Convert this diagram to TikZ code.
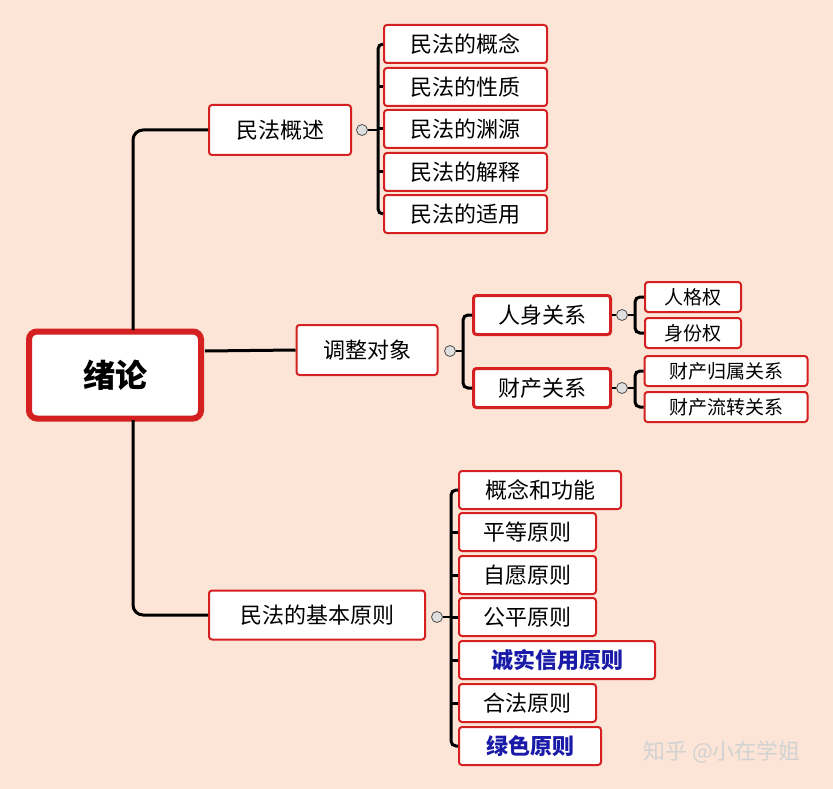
\documentclass[tikz,border=0pt]{standalone}
\usepackage{fontspec}
\setmainfont{Noto Sans CJK SC}
\definecolor{bg}{HTML}{FCE5D7}
\definecolor{bred}{HTML}{D42020}
\definecolor{bblue}{HTML}{1A1AA8}
\begin{document}
\begin{tikzpicture}[x=1pt,y=-1pt,
 box/.style={draw=bred,fill=white,rounded corners=3pt,line width=2pt,minimum height=38pt,inner sep=0pt,font=\fontsize{22}{24}\selectfont},
 sbox/.style={box,minimum height=30pt,font=\fontsize{19}{21}\selectfont},
 con/.style={line width=3pt,black},
 col/.style={circle,draw=black!70,fill=gray!25,line width=0.8pt,minimum size=11pt,inner sep=0pt}]
\fill[bg] (0,0) rectangle (833,789);
\useasboundingbox (0,0) rectangle (833,789);
% root
\node[box,line width=6pt,rounded corners=8pt,minimum width=172pt,minimum height=87pt,font=\fontsize{32}{34}\selectfont\bfseries] (root) at (115,375) {绪论};
\node[box,minimum width=142pt,minimum height=50pt] (a) at (280,130) {民法概述};
\node[box,minimum width=141pt,minimum height=50pt] (b) at (367,350) {调整对象};
\node[box,minimum width=216pt,minimum height=49pt] (c) at (317,615) {民法的基本原则};
% connectors from root
\draw[con,rounded corners=10pt] (133,330) |- (a.west);
\draw[con,rounded corners=10pt] (133,420) |- (c.west);
\draw[con] (205,351) -- (b.west);
% group a
\foreach \n/\t/\y in {a1/民法的概念/44,a2/民法的性质/87,a3/民法的渊源/129,a4/民法的解释/172,a5/民法的适用/214}
  \node[box,minimum width=163pt,anchor=west] (\n) at (383,\y) {\t};
\draw[con,rounded corners=5pt] (a1.west) -- (378,44) -- (378,214) -- (a5.west);
\foreach \n in {a2,a3,a4} \draw[con] (378,0|-\n.west) -- (\n.west);
\node[col] (ca) at (362,130) {};
\draw[con,line width=1.5pt] (ca.east) -- (378,130);
% group b
\node[box,line width=3pt,minimum width=137pt,minimum height=39pt] (b1) at (542,315) {人身关系};
\node[box,line width=3pt,minimum width=137pt,minimum height=39pt] (b2) at (542,388) {财产关系};
\node[col] (cb) at (450,351) {};
\draw[con,line width=1.5pt] (cb.east) -- (463,351);
\draw[con,rounded corners=5pt] (b1.west) -- (463,315) -- (463,388) -- (b2.west);
\node[sbox,minimum width=96pt] (b11) at (693,297) {人格权};
\node[sbox,minimum width=96pt] (b12) at (693,333) {身份权};
\node[sbox,minimum width=163pt] (b21) at (726,371) {财产归属关系};
\node[sbox,minimum width=163pt] (b22) at (726,407) {财产流转关系};
\node[col] (cb1) at (622,315) {};
\node[col] (cb2) at (622,388) {};
\draw[con,line width=1.5pt] (b1.east) -- (cb1.west);
\draw[con,line width=1.5pt] (b2.east) -- (cb2.west);
\draw[con,line width=1.5pt] (cb1.east) -- (635,315);
\draw[con,line width=1.5pt] (cb2.east) -- (635,388);
\draw[con,rounded corners=5pt] (b11.west) -- (635,297) -- (635,333) -- (b12.west);
\draw[con,rounded corners=5pt] (b21.west) -- (635,371) -- (635,407) -- (b22.west);
% group c
\foreach \n/\t/\y/\w/\s in {c1/概念和功能/490/162/,c2/平等原则/532/137/,c3/自愿原则/575/137/,c4/公平原则/617/137/,c5/诚实信用原则/660/196/\bfseries\color{bblue},c6/合法原则/703/137/,c7/绿色原则/746/142/\bfseries\color{bblue}}
  \node[box,minimum width=\w pt,anchor=west,font=\fontsize{22}{24}\selectfont\s] (\n) at (458,\y) {\t};
\draw[con,rounded corners=5pt] (c1.west) -- (451,490) -- (451,746) -- (c7.west);
\foreach \n in {c2,c3,c4,c5,c6} \draw[con] (451,0|-\n.west) -- (\n.west);
\node[col] (cc) at (437,617) {};
\draw[con,line width=1.5pt] (cc.east) -- (451,617);
% watermark
\node[text=white!65!gray,font=\fontsize{22}{24}\selectfont] (wm) at (722,752) {知乎 @小在学姐};
\end{tikzpicture}
\end{document}
